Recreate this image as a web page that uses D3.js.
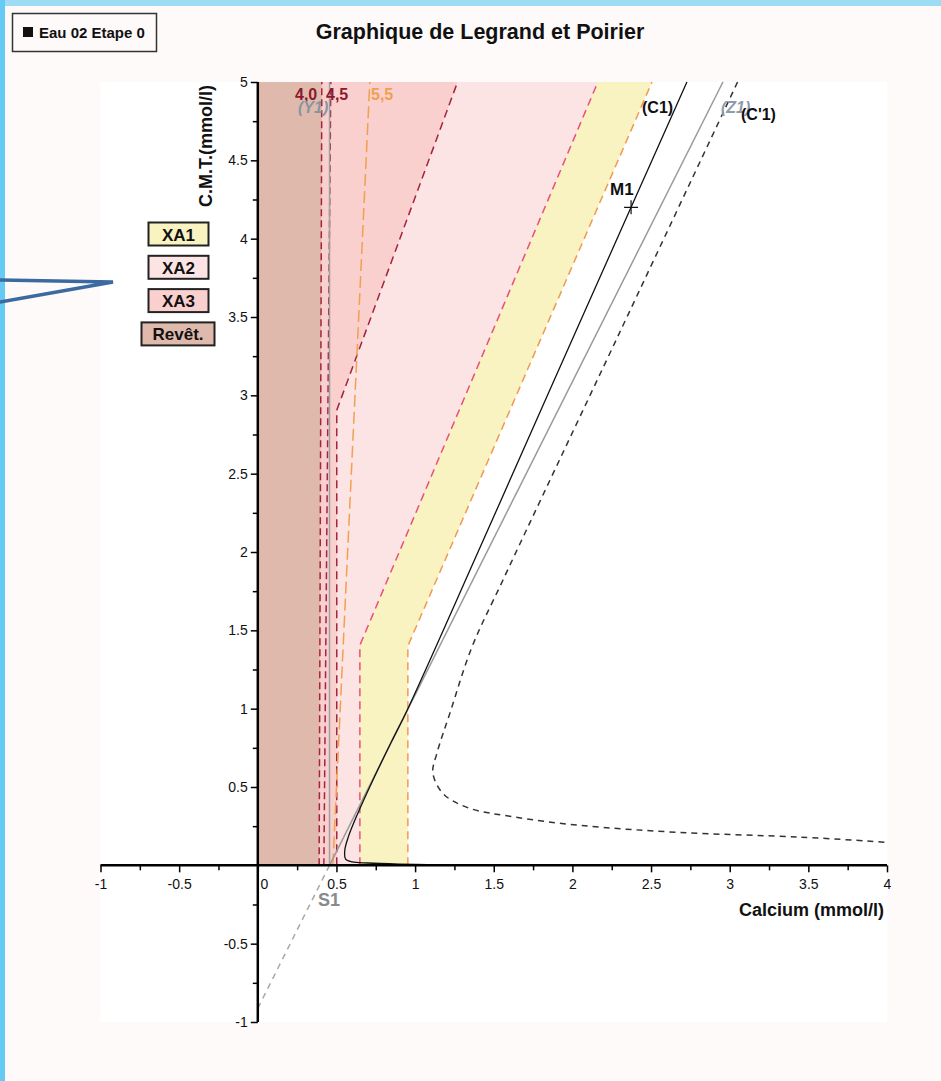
<!DOCTYPE html>
<html>
<head>
<meta charset="utf-8">
<script src="https://cdn.jsdelivr.net/npm/d3@7"></script>
<style>
body { margin: 0; background: #fefaf9; }
text { font-family: "Liberation Sans", Arial, sans-serif; }
</style>
</head>
<body>
<svg width="941" height="1081"></svg>
<script>
// axis ticks
const xMajor = [-1, -0.5, 0, 0.5, 1, 1.5, 2, 2.5, 3, 3.5, 4];
const xMinor = [-0.75, -0.25, 0.25, 0.75, 1.25, 1.75, 2.25, 2.75, 3.25, 3.75];
const yMajor = [-1, -0.5, 0.5, 1, 1.5, 2, 2.5, 3, 3.5, 4, 4.5, 5];
const yMinor = [-0.75, -0.25, 0.25, 0.75, 1.25, 1.75, 2.25, 2.75, 3.25, 3.75, 4.25, 4.75];

// zone boundaries (Ca, CMT)
const xa1Edge = [[0.954, 0], [0.954, 1.40], [2.506, 5]];
const xa2Edge = [[0.649, 0], [0.649, 1.405], [2.162, 5]];
const xa3Edge = [[0.502, 0], [0.502, 2.905], [1.27, 5]];
const ph40 = [[0.39, 0], [0.407, 5]];
const ph45 = [[0.42, 0], [0.464, 5]];
const ph55 = [[0.477, 0], [0.712, 5]];

// S1 and lines through it
const y1Line = [[0.456, 0], [0.456, 5]];
const z1Line = [[0.456, 0], [2.957, 5]];
const z1Below = [[0.456, 0], [0.0, -0.913]];

// equilibrium curves
const c1 = [[2.728, 5], [2.373, 4.2], [1.85, 3.02], [1.40, 2.0], [0.954, 1.0], [0.85, 0.79],
  [0.73, 0.54], [0.635, 0.33], [0.575, 0.18], [0.553, 0.096], [0.558, 0.04], [0.60, 0.022],
  [0.70, 0.015], [0.90, 0.008], [1.15, 0.003]];
const c1p = [[3.05, 5], [2.30, 3.40], [1.558, 1.82], [1.36, 1.39], [1.221, 0.97], [1.14, 0.72],
  [1.113, 0.59], [1.176, 0.46], [1.329, 0.37], [1.62, 0.31], [2.05, 0.255], [2.68, 0.21],
  [3.45, 0.18], [4.0, 0.147]];
const m1 = [2.373, 4.2];

const legendNames = ["XA1", "XA2", "XA3", "Revêt."];
const legendFills = ["#f9f3c2", "#fde4e4", "#fad0ce", "#e0b9ad"];

const svg = d3.select("svg");
const x = d3.scaleLinear().domain([-1, 4]).range([100.5, 887]);
const y = d3.scaleLinear().domain([-1, 5]).range([1022, 82]);
const line = d3.line().x(d => x(d[0])).y(d => y(d[1]));
const smooth = d3.line().x(d => x(d[0])).y(d => y(d[1])).curve(d3.curveCatmullRom);

// page frame
svg.append("rect").attr("width", 941).attr("height", 1081).attr("fill", "#fefaf9");
svg.append("rect").attr("width", 941).attr("height", 6).attr("fill", "#9edcf6");
svg.append("rect").attr("width", 5).attr("height", 1081).attr("fill", "#66cbf4");

// plot background
svg.append("rect")
  .attr("x", x(-1)).attr("y", y(5))
  .attr("width", x(4) - x(-1)).attr("height", y(-1) - y(5))
  .attr("fill", "#ffffff");

// zones, widest first
const zone = edge => [[0, 0]].concat(edge).concat([[0, 5]]);
const zones = [[xa1Edge, legendFills[0]], [xa2Edge, legendFills[1]], [xa3Edge, legendFills[2]], [ph40, legendFills[3]]];
svg.append("g").selectAll("path").data(zones).join("path")
  .attr("d", d => line(zone(d[0]))).attr("fill", d => d[1]);

// zone edges
const edges = [
  [xa1Edge, "#ef9a50", "8,5"], [xa2Edge, "#e8507a", "8,5"], [xa3Edge, "#a3243f", "8,5"],
  [ph40, "#a3243f", "7,4"], [ph45, "#a3243f", "7,4"], [ph55, "#f0a050", "12,5"]
];
svg.append("g").selectAll("path").data(edges).join("path")
  .attr("d", d => line(d[0])).attr("fill", "none")
  .attr("stroke", d => d[1]).attr("stroke-width", 1.5).attr("stroke-dasharray", d => d[2]);

// Y1 / Z1 grey lines
svg.append("path").attr("d", line(y1Line)).attr("fill", "none").attr("stroke", "#a0a0a0").attr("stroke-width", 1.5);
svg.append("path").attr("d", line(z1Line)).attr("fill", "none").attr("stroke", "#9a9a9a").attr("stroke-width", 1.5);
svg.append("path").attr("d", line(z1Below)).attr("fill", "none").attr("stroke", "#a8a8a8")
  .attr("stroke-width", 1.5).attr("stroke-dasharray", "6,5");

// curves
svg.append("path").attr("d", smooth(c1)).attr("fill", "none").attr("stroke", "#111").attr("stroke-width", 1.3);
svg.append("path").attr("d", smooth(c1p)).attr("fill", "none").attr("stroke", "#333")
  .attr("stroke-width", 1.5).attr("stroke-dasharray", "6,5");

// M1 cross
svg.append("path")
  .attr("d", `M${x(m1[0]) - 7},${y(m1[1])}H${x(m1[0]) + 7}M${x(m1[0])},${y(m1[1]) - 7}V${y(m1[1]) + 7}`)
  .attr("stroke", "#111").attr("stroke-width", 1.2);

// axes
const fmt = d => String(d);
const gx = svg.append("g").attr("transform", `translate(0,${y(0)})`);
gx.call(d3.axisBottom(x).tickValues(xMajor).tickSize(7).tickPadding(7).tickFormat(fmt));
gx.append("g").call(d3.axisBottom(x).tickValues(xMinor).tickSize(5).tickFormat(""));
gx.selectAll(".tick text").filter(d => d === 0).attr("dx", 6);
const gy = svg.append("g").attr("transform", `translate(${x(0)},0)`);
gy.call(d3.axisLeft(y).tickValues(yMajor).tickSize(7).tickPadding(3).tickFormat(fmt));
gy.append("g").call(d3.axisLeft(y).tickValues(yMinor).tickSize(5).tickFormat(""));
svg.selectAll(".domain").remove();
svg.selectAll(".tick line").attr("stroke", "#000").attr("stroke-width", 1.5);
svg.selectAll(".tick text").attr("font-size", 14).attr("fill", "#111")
  .style("font-family", '"Liberation Sans", Arial, sans-serif');
svg.append("line").attr("x1", x(-1)).attr("x2", x(4)).attr("y1", y(0)).attr("y2", y(0))
  .attr("stroke", "#000").attr("stroke-width", 2.5);
svg.append("line").attr("x1", x(0)).attr("x2", x(0)).attr("y1", y(-1)).attr("y2", y(5))
  .attr("stroke", "#000").attr("stroke-width", 2.5);

// axis titles
svg.append("text").attr("x", 884).attr("y", 916).attr("text-anchor", "end")
  .attr("font-size", 18).attr("font-weight", "bold").attr("fill", "#111").text("Calcium (mmol/l)");
svg.append("text").attr("transform", "translate(212,85) rotate(-90)").attr("text-anchor", "end")
  .attr("font-size", 18).attr("font-weight", "bold").attr("fill", "#111").text("C.M.T.(mmol/l)");

// line labels
const labels = [
  ["4,0", 295, 100, "#8b1a2e", "normal", "bold", 16], ["4,5", 326, 100, "#8b1a2e", "normal", "bold", 16],
  ["5,5", 371, 100, "#f0a050", "normal", "bold", 16], ["(Y1)", 298, 113, "#8795a3", "italic", "bold", 16],
  ["(C1)", 642, 113, "#111", "normal", "bold", 16], ["(Z1)", 721, 113, "#8f9aab", "italic", "bold", 16],
  ["(C'1)", 741, 120, "#111", "normal", "bold", 16], ["M1", 610, 195, "#111", "normal", "bold", 17],
  ["S1", 318, 906, "#8a8a8a", "normal", "bold", 18]
];
svg.append("g").selectAll("text").data(labels).join("text")
  .attr("x", d => d[1]).attr("y", d => d[2]).attr("fill", d => d[3])
  .attr("font-style", d => d[4]).attr("font-weight", d => d[5]).attr("font-size", d => d[6]).text(d => d[0]);

// title and step box
svg.append("text").attr("x", 480).attr("y", 39).attr("text-anchor", "middle")
  .attr("font-size", 21.5).attr("font-weight", "bold").attr("fill", "#111").text("Graphique de Legrand et Poirier");
svg.append("rect").attr("x", 12.5).attr("y", 13.5).attr("width", 144).attr("height", 38)
  .attr("fill", "#fefaf9").attr("stroke", "#333").attr("stroke-width", 1.5);
svg.append("rect").attr("x", 23).attr("y", 27).attr("width", 10).attr("height", 10).attr("fill", "#111");
svg.append("text").attr("x", 39).attr("y", 38).attr("font-size", 15).attr("font-weight", "bold")
  .attr("fill", "#111").text("Eau 02 Etape 0");

// legend buttons
const lg = svg.append("g").selectAll("g").data(legendNames).join("g")
  .attr("transform", (d, i) => `translate(${i === 3 ? 141 : 148},${222 + i * 33.3})`);
lg.append("rect").attr("x", 0.5).attr("y", 0.5)
  .attr("width", (d, i) => i === 3 ? 73 : 60).attr("height", 23)
  .attr("fill", (d, i) => legendFills[i]).attr("stroke", "#222").attr("stroke-width", 2);
lg.append("text").attr("x", (d, i) => i === 3 ? 37 : 30.5).attr("y", 18.5).attr("text-anchor", "middle")
  .attr("font-size", 17).attr("font-weight", "bold").attr("fill", "#111").text(d => d);

// blue pointer
svg.append("path").attr("d", "M0,280L113,282L0,302").attr("fill", "none")
  .attr("stroke", "#3b6aa0").attr("stroke-width", 3.5).attr("stroke-linecap", "round");
</script>
</body>
</html>
